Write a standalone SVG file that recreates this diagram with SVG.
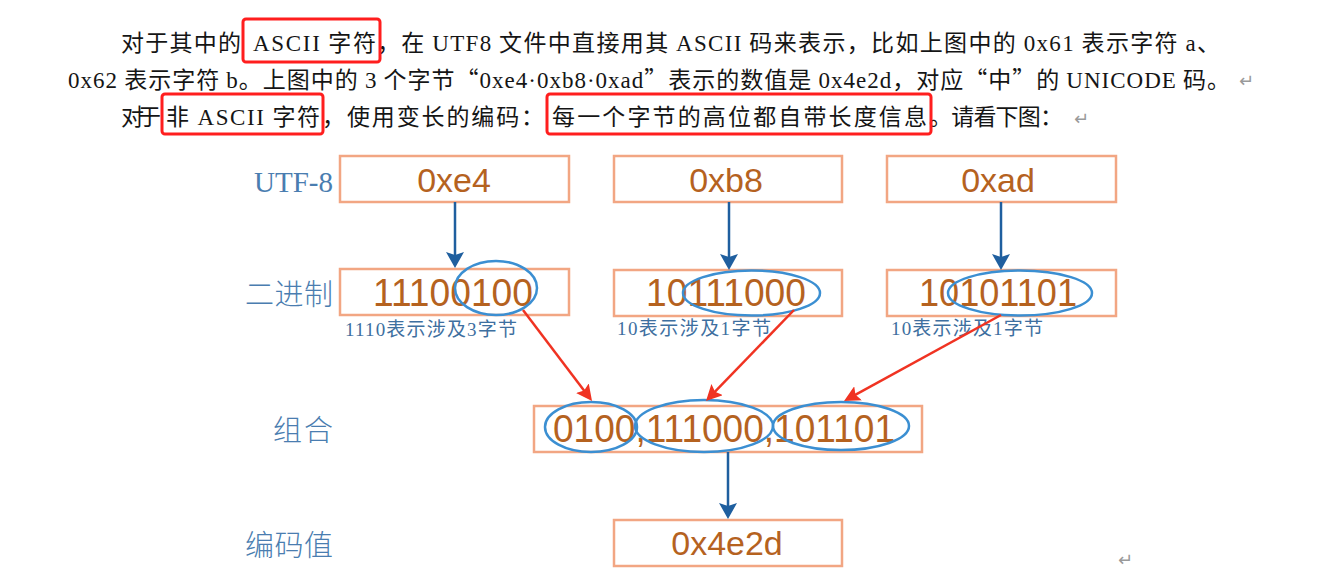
<svg xmlns="http://www.w3.org/2000/svg" width="1331" height="586" viewBox="0 0 1331 586">
<style>
.para{font-family:"Noto Sans CJK SC",sans-serif;font-size:23px;fill:#151515}
.lat{font-family:"Liberation Serif",serif;font-size:23px}
.ret{font-family:"DejaVu Sans",sans-serif;font-size:18px;fill:#9a9a9a}
.hl{fill:none;stroke:#ff1e1e;stroke-width:3}
.lbl{font-family:"Noto Sans CJK SC",sans-serif;font-size:29px;font-weight:300;fill:#4a7db0}
.lblL{font-family:"Liberation Serif",serif;font-size:30px;fill:#4a7db0}
.box{fill:#fff;stroke:#f2a683;stroke-width:2.5}
.val{font-family:"Liberation Sans",Arial,sans-serif;font-size:34px;fill:#b5621f;text-anchor:middle}
.bin{font-family:"Liberation Sans",Arial,sans-serif;font-size:38px;fill:#b5621f}
.cap{font-family:"Liberation Serif","Noto Sans CJK SC",serif;font-size:19px;fill:#3e6f9f}
.ell{fill:none;stroke:#3b8fd2;stroke-width:2.5}
.ab{stroke:#1f5f9f;stroke-width:2.5;fill:none}
.ar{stroke:#f03322;stroke-width:2.5;fill:none}
</style>
<defs>
<marker id="mb" markerUnits="userSpaceOnUse" viewBox="0 0 16 18" refX="10" refY="9" markerWidth="16" markerHeight="18" orient="auto">
<path d="M0,0 L16,9 L0,18 L3,9 z" fill="#1f5f9f"/>
</marker>
<marker id="mr" markerUnits="userSpaceOnUse" viewBox="0 0 16 16" refX="10" refY="8" markerWidth="16" markerHeight="16" orient="auto">
<path d="M0,0 L16,8 L0,16 L3,8 z" fill="#f03322"/>
</marker>
</defs>

<g id="paragraph">
<text class="para" x="121" y="51" textLength="120" lengthAdjust="spacing">对于其中的</text>
<text class="para" x="253" y="51" textLength="123" lengthAdjust="spacing"><tspan class="lat">ASCII</tspan> 字符</text>
<text class="para" x="377" y="51" textLength="843" lengthAdjust="spacing">，在 <tspan class="lat">UTF8</tspan> 文件中直接用其 <tspan class="lat">ASCII</tspan> 码来表示，比如上图中的 <tspan class="lat">0x61</tspan> 表示字符 <tspan class="lat">a</tspan>、</text>
<text class="para" x="68" y="88" textLength="1162" lengthAdjust="spacing"><tspan class="lat">0x62</tspan> 表示字符 <tspan class="lat">b</tspan>。上图中的 <tspan class="lat">3</tspan> 个字节“<tspan class="lat">0xe4·0xb8·0xad</tspan>”表示的数值是 <tspan class="lat">0x4e2d</tspan>，对应“中”的 <tspan class="lat">UNICODE</tspan> 码。</text>
<text class="ret" x="1239" y="87">↵</text>
<text class="para" x="121" y="125" textLength="40" lengthAdjust="spacing">对于</text>
<text class="para" x="166" y="125" textLength="154" lengthAdjust="spacing">非 <tspan class="lat">ASCII</tspan> 字符</text>
<text class="para" x="322" y="125" textLength="222" lengthAdjust="spacing">，使用变长的编码：</text>
<text class="para" x="552" y="125" textLength="375" lengthAdjust="spacing">每一个字节的高位都自带长度信息</text>
<text class="para" x="929" y="125" textLength="134" lengthAdjust="spacing">。请看下图：</text>
<text class="ret" x="1074" y="125">↵</text>
<rect class="hl" x="243" y="19" width="137" height="43" rx="3"/>
<rect class="hl" x="162" y="94" width="161" height="40" rx="3"/>
<rect class="hl" x="547" y="94" width="384" height="40" rx="3"/>
</g>

<g id="labels">
<text class="lblL" x="254" y="192" textLength="79" lengthAdjust="spacingAndGlyphs">UTF-8</text>
<text class="lbl" x="245" y="305" textLength="88" lengthAdjust="spacing">二进制</text>
<text class="lbl" x="273" y="441" textLength="60" lengthAdjust="spacing">组合</text>
<text class="lbl" x="245" y="556" textLength="88" lengthAdjust="spacing">编码值</text>
</g>

<g id="node-e4">
<rect class="box" x="340" y="156" width="229" height="46"/>
<text class="val" x="454" y="192">0xe4</text>
</g>
<g id="node-b8">
<rect class="box" x="614" y="156" width="228" height="46"/>
<text class="val" x="726" y="192">0xb8</text>
</g>
<g id="node-ad">
<rect class="box" x="887" y="156" width="229" height="46"/>
<text class="val" x="998" y="192">0xad</text>
</g>

<g id="node-bin1">
<rect class="box" x="340" y="269" width="229" height="46"/>
<text class="bin" x="373" y="306" textLength="160" lengthAdjust="spacingAndGlyphs">11100100</text>
<ellipse class="ell" cx="496" cy="288" rx="41" ry="27"/>
<text class="cap" x="345" y="336" textLength="172" lengthAdjust="spacing">1110表示涉及3字节</text>
</g>
<g id="node-bin2">
<rect class="box" x="614" y="270" width="228" height="46"/>
<text class="bin" x="646" y="306" textLength="160" lengthAdjust="spacingAndGlyphs">10111000</text>
<ellipse class="ell" cx="751.5" cy="293" rx="68.5" ry="22.5"/>
<text class="cap" x="617" y="335" textLength="154" lengthAdjust="spacing">10表示涉及1字节</text>
</g>
<g id="node-bin3">
<rect class="box" x="887" y="270" width="229" height="46"/>
<text class="bin" x="919" y="306" textLength="158" lengthAdjust="spacingAndGlyphs">10101101</text>
<ellipse class="ell" cx="1020" cy="293" rx="72" ry="22.5"/>
<text class="cap" x="891" y="335" textLength="152" lengthAdjust="spacing">10表示涉及1字节</text>
</g>

<g id="node-combined">
<rect class="box" x="534" y="406" width="388" height="46"/>
<text class="bin" x="553" y="442" textLength="342" lengthAdjust="spacingAndGlyphs">0100,111000,101101</text>
<ellipse class="ell" cx="591" cy="427" rx="46" ry="25"/>
<ellipse class="ell" cx="704" cy="426" rx="69" ry="26"/>
<ellipse class="ell" cx="841" cy="426" rx="68" ry="24"/>
</g>

<g id="node-result">
<rect class="box" x="614" y="520" width="228" height="46"/>
<text class="val" x="727" y="555">0x4e2d</text>
</g>

<g id="connectors">
<line class="ab" x1="455" y1="202" x2="455" y2="262" marker-end="url(#mb)"/>
<line class="ab" x1="729" y1="202" x2="729" y2="264" marker-end="url(#mb)"/>
<line class="ab" x1="1001" y1="202" x2="1001" y2="264" marker-end="url(#mb)"/>
<line class="ab" x1="728" y1="452" x2="728" y2="513" marker-end="url(#mb)"/>
<line class="ar" x1="523" y1="310" x2="588.4" y2="396.2" marker-end="url(#mr)"/>
<line class="ar" x1="794" y1="310" x2="710.2" y2="396.7" marker-end="url(#mr)"/>
<line class="ar" x1="1001" y1="315" x2="849.3" y2="398.1" marker-end="url(#mr)"/>
</g>

<text class="ret" x="1118" y="566">↵</text>
</svg>
